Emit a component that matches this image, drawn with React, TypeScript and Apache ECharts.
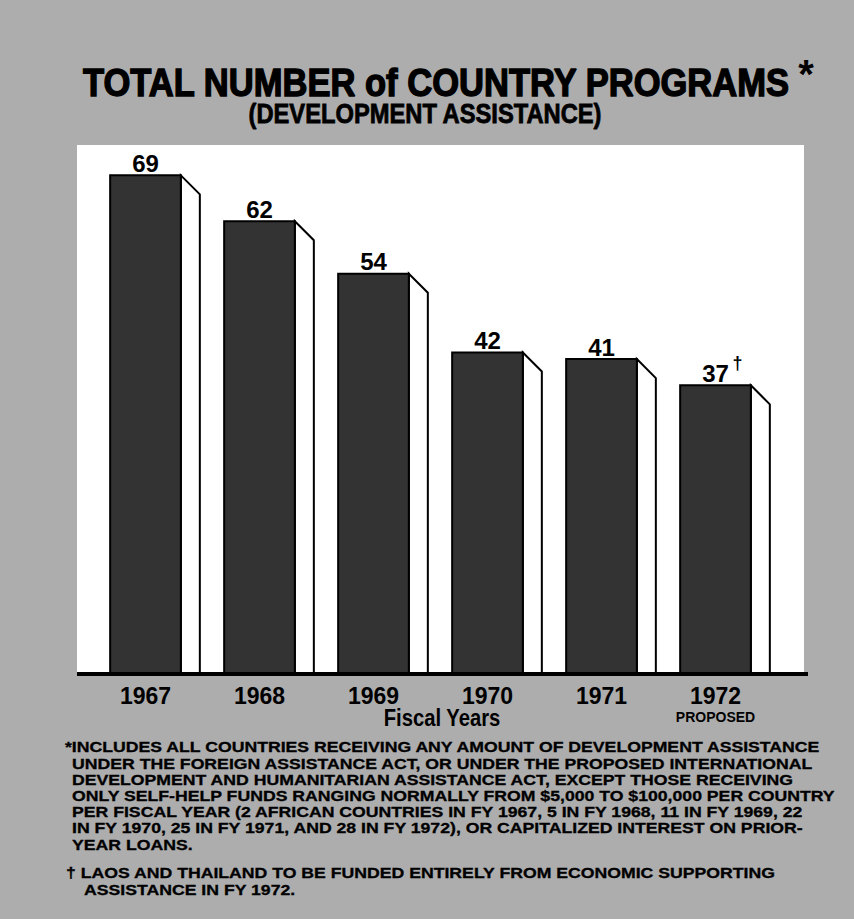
import React, { useEffect, useRef } from 'react';
import * as echarts from 'echarts';

// ---- data ----
const years = ['1967', '1968', '1969', '1970', '1971', '1972'];
const programs = [69, 62, 54, 42, 41, 37];
const valueNotes = ['', '', '', '', '', '†'];
const yearNotes = ['', '', '', '', '', 'PROPOSED'];
const titleText = 'TOTAL NUMBER of COUNTRY PROGRAMS';
const titleMark = '*';
const subtitleText = '(DEVELOPMENT ASSISTANCE)';
const axisTitle = 'Fiscal Years';
const footnoteLines = [
  '*INCLUDES ALL COUNTRIES RECEIVING ANY AMOUNT OF DEVELOPMENT ASSISTANCE',
  'UNDER THE FOREIGN ASSISTANCE ACT, OR UNDER THE PROPOSED INTERNATIONAL',
  'DEVELOPMENT AND HUMANITARIAN ASSISTANCE ACT, EXCEPT THOSE RECEIVING',
  'ONLY SELF-HELP FUNDS RANGING NORMALLY FROM $5,000 TO $100,000 PER COUNTRY',
  'PER FISCAL YEAR (2 AFRICAN COUNTRIES IN FY 1967, 5 IN FY 1968, 11 IN FY 1969, 22',
  'IN FY 1970, 25 IN FY 1971, AND 28 IN FY 1972), OR CAPITALIZED INTEREST ON PRIOR-',
  'YEAR LOANS.',
];
const daggerLines = [
  '† LAOS AND THAILAND TO BE FUNDED ENTIRELY FROM ECONOMIC SUPPORTING',
  'ASSISTANCE IN FY 1972.',
];

// ---- styling helpers ----
const FAMILY = '"Liberation Sans", Arial, Helvetica, sans-serif';
const Y_MIN = -7;
const Y_MAX = 70;

function measure(text: string, font: string): number {
  const ctx = document.createElement('canvas').getContext('2d');
  if (!ctx) return text.length * 10;
  ctx.font = font;
  return ctx.measureText(text).width;
}

export default function App() {
  const ref = useRef<HTMLDivElement>(null);

  useEffect(() => {
    if (!ref.current) return;
    const chart = echarts.init(ref.current, null, { renderer: 'svg' });

    const titleFont = `bold 39px ${FAMILY}`;
    const titleScale = 708 / measure(titleText, titleFont);
    const subFont = `bold 28px ${FAMILY}`;
    const subScale = 354 / measure(subtitleText, subFont);
    const fyFont = `bold 23px ${FAMILY}`;
    const fyScale = 117 / measure(axisTitle, fyFont);
    const noteFont = `bold 15px ${FAMILY}`;
    const noteScale = 764 / measure(footnoteLines[3], noteFont);

    const graphics: any[] = [
      {
        type: 'rect',
        z: -10,
        shape: { x: 77, y: 145, width: 727, height: 529 },
        style: { fill: '#ffffff' },
      },
      {
        type: 'text',
        x: 436,
        y: 83,
        scaleX: titleScale,
        style: {
          text: titleText,
          font: titleFont,
          fill: '#000',
          stroke: '#000',
          lineWidth: 1.4,
          align: 'center',
          verticalAlign: 'middle',
        },
      },
      {
        type: 'text',
        x: 806,
        y: 74,
        style: {
          text: titleMark,
          font: `bold 40px ${FAMILY}`,
          fill: '#000',
          align: 'center',
          verticalAlign: 'middle',
        },
      },
      {
        type: 'text',
        x: 425,
        y: 113,
        scaleX: subScale,
        style: {
          text: subtitleText,
          font: subFont,
          fill: '#000',
          stroke: '#000',
          lineWidth: 0.8,
          align: 'center',
          verticalAlign: 'middle',
        },
      },
      {
        type: 'text',
        x: 442,
        y: 718,
        scaleX: fyScale,
        style: {
          text: axisTitle,
          font: fyFont,
          fill: '#000',
          align: 'center',
          verticalAlign: 'middle',
        },
      },
    ];

    footnoteLines.forEach((line, i) => {
      graphics.push({
        type: 'text',
        x: i === 0 ? 65 : 72,
        y: 747 + i * 16.2,
        scaleX: noteScale,
        style: {
          text: line,
          font: noteFont,
          fill: '#000',
          stroke: '#000',
          lineWidth: 0.3,
          align: 'left',
          verticalAlign: 'middle',
        },
      });
    });
    daggerLines.forEach((line, i) => {
      graphics.push({
        type: 'text',
        x: i === 0 ? 66 : 84,
        y: 873 + i * 16.2,
        scaleX: noteScale,
        style: {
          text: line,
          font: noteFont,
          fill: '#000',
          stroke: '#000',
          lineWidth: 0.3,
          align: 'left',
          verticalAlign: 'middle',
        },
      });
    });

    graphics.push({
      type: 'line',
      z: 100,
      shape: { x1: 77, y1: 674, x2: 808, y2: 674 },
      style: { stroke: '#000', lineWidth: 4 },
    });

    const option: any = {
      animation: false,
      backgroundColor: '#adadad',
      graphic: { elements: graphics },
      grid: { left: 88.5, right: 81.5, top: 168.8, bottom: 245, containLabel: false },
      xAxis: {
        type: 'category',
        data: years,
        axisLine: { show: false },
        axisTick: { show: false },
        axisLabel: {
          interval: 0,
          color: '#000',
          fontFamily: FAMILY,
          fontWeight: 'bold',
          fontSize: 23,
          lineHeight: 24,
          margin: 10,
          formatter: (v: string, idx: number) =>
            yearNotes[idx] ? `${v}\n{p|${yearNotes[idx]}}` : v,
          rich: {
            p: { fontFamily: FAMILY, fontWeight: 'bold', fontSize: 14, lineHeight: 18, color: '#000' },
          },
        },
      },
      yAxis: {
        type: 'value',
        min: Y_MIN,
        max: Y_MAX,
        show: false,
        splitLine: { show: false },
      },
      series: [
        {
          type: 'custom',
          data: programs.map((v, i) => [i, v]),
          renderItem: (params: any, api: any) => {
            const idx = params.dataIndex;
            const v = api.value(1);
            const top = api.coord([api.value(0), v]);
            const base = api.coord([api.value(0), Y_MIN]);
            const band = api.size([1, 0])[0];
            const w = band * 0.62;
            const d = 19;
            const x0 = top[0] - w / 2;
            const x1 = top[0] + w / 2;
            const y0 = top[1];
            const yb = base[1];
            const children: any[] = [
              {
                type: 'polygon',
                shape: { points: [[x1, y0], [x1 + d, y0 + d], [x1 + d, yb], [x1, yb]] },
                style: { fill: '#ffffff', stroke: '#000', lineWidth: 2 },
              },
              {
                type: 'rect',
                shape: { x: x0, y: y0, width: w, height: yb - y0 },
                style: { fill: '#333333', stroke: '#000', lineWidth: 2 },
              },
              {
                type: 'text',
                x: top[0],
                y: y0 - 12,
                style: {
                  text: String(v),
                  font: `bold 24px ${FAMILY}`,
                  fill: '#000',
                  align: 'center',
                  verticalAlign: 'middle',
                },
              },
            ];
            if (valueNotes[idx]) {
              children.push({
                type: 'text',
                x: top[0] + 22,
                y: y0 - 22,
                style: {
                  text: valueNotes[idx],
                  font: `bold 18px ${FAMILY}`,
                  fill: '#000',
                  align: 'center',
                  verticalAlign: 'middle',
                },
              });
            }
            return { type: 'group', children };
          },
        },
      ],
    };

    chart.setOption(option);
    return () => chart.dispose();
  }, []);

  return (
    <div
      ref={ref}
      style={{ position: 'absolute', left: 0, top: 0, width: 854, height: 919 }}
    />
  );
}
